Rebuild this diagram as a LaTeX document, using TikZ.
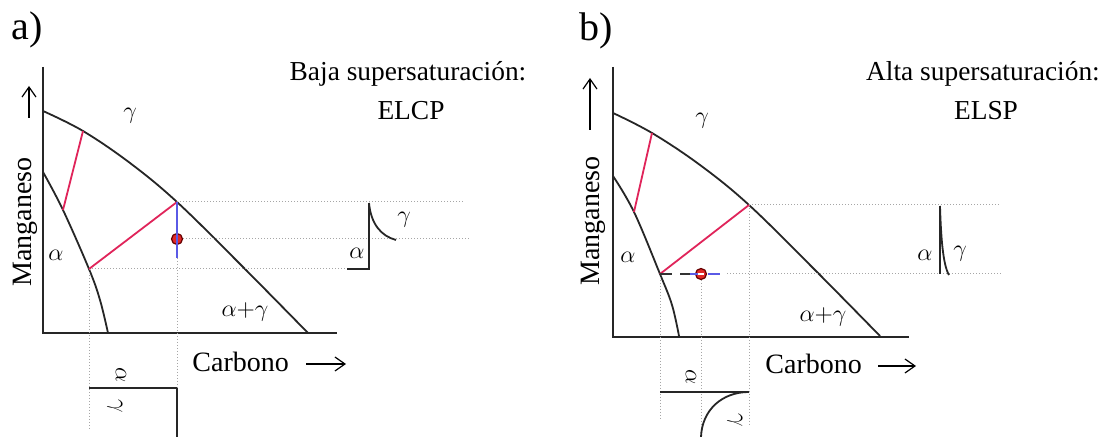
\documentclass[tikz,border=0pt]{standalone}
\usepackage{fontspec}
\setmainfont{Liberation Serif}
\usetikzlibrary{arrows.meta}
\definecolor{tiered}{HTML}{E0245A}
\definecolor{tieblue}{HTML}{5A5AE6}
\definecolor{dotred}{HTML}{E02828}
\tikzset{
  axisline/.style={line width=1.3pt, black!85},
  boundary/.style={line width=0.9pt, black!85},
  tieline/.style={line width=0.9pt, tiered},
  guide/.style={line width=0.5pt, gray!70, densely dotted},
  brk/.style={line width=0.9pt, black!85},
  lbl/.style={font=\fontsize{14}{16}\selectfont, inner sep=0pt},
  ttl/.style={font=\fontsize{13.7}{16}\selectfont, inner sep=0pt, align=center},
  panel/.style={font=\fontsize{20}{22}\selectfont, inner sep=0pt},
  greek/.style={font=\fontsize{13}{15}\selectfont, inner sep=0pt},
  dotmark/.style={circle, fill=dotred, draw=black!60!red, line width=0.6pt, minimum size=5.5pt, inner sep=0pt},
  uparrow/.style={-{Straight Barb[length=5pt,width=7pt]}, line width=0.6pt},
}
\begin{document}
\begin{tikzpicture}[x=0.5pt, y=-0.5pt]
\useasboundingbox (0,0) rectangle (1116,437);
\fill[white] (0,0) rectangle (1116,437);

% ================= panel a =================
\node[panel] (pa) at (27,30) {a)};
\node[ttl] (ta) at (408,74) {Baja supersaturación:};
\node[ttl] (ta2) at (411,111) {ELCP};

\coordinate (aO) at (43,333);
\coordinate (aT) at (43,67);
\coordinate (aR) at (337,333);
\draw[axisline] (aT) -- (aO) -- (aR);

\node[lbl, rotate=90] (aman) at (25,222) {Manganeso};
\coordinate (aua) at (29,118);
\coordinate (aub) at (29,86);
\draw[uparrow] (aua) -- (aub);
\node[lbl, anchor=west] (acar) at (192,362) {Carbono};
\coordinate (ara) at (306,364);
\coordinate (arb) at (346,364);
\draw[uparrow] (ara) -- (arb);

% boundaries
\coordinate (ag1) at (83,131);
\coordinate (ag2) at (177,202);
\coordinate (aa1) at (63,210);
\coordinate (aa2) at (89,269);
\draw[boundary] plot[smooth, tension=0.6] coordinates {(43,111) (83,131) (130,163) (177,202) (240,264) (308,333)};
\draw[boundary] plot[smooth, tension=0.6] coordinates {(43,172) (63,210) (89,269) (100,300) (108,333)};

% guides
\coordinate (ag2r) at (465,202);
\coordinate (adot) at (177,239);
\coordinate (adotr) at (470,239);
\coordinate (aa2r) at (369,269);
\coordinate (aa2d) at (89,430);
\coordinate (ablue) at (177,258);
\coordinate (abot) at (177,390);
\draw[guide] (ag2) -- (ag2r);
\draw[guide] (adot) -- (adotr);
\draw[guide] (aa2) -- (aa2r);
\draw[guide] (aa2) -- (aa2d);
\draw[guide] (ablue) -- (abot);

% tie lines
\draw[tieline] (aa1) -- (ag1);
\draw[tieline] (aa2) -- (ag2);
\node[dotmark] (adm) at (adot) {};
\draw[line width=0.9pt, tieblue] (ag2) -- (ablue);

% right bracket
\coordinate (abt) at (369,203);
\coordinate (abb) at (369,269);
\coordinate (abl) at (347,269);
\coordinate (abc) at (396,240);
\draw[brk] (abt) -- (abb) -- (abl);
\draw[brk] (abt) .. controls (371,224) and (381,236) .. (abc);
\node[greek] (abg) at (404,220) {$\gamma$};
\node[greek] (aba) at (357,253) {$\alpha$};

% bottom bracket
\coordinate (aql) at (89,388);
\coordinate (aqr) at (177,388);
\coordinate (aqd) at (177,437);
\draw[brk] (aql) -- (aqr);
\draw[brk] (aqr) -- (aqd);
\node[greek, rotate=-90] (aqa) at (121,375) {$\alpha$};
\node[greek, rotate=-90] (aqg) at (115,406) {$\gamma$};

% region labels
\node[greek] (aga) at (130,116) {$\gamma$};
\node[greek] (aal) at (56,255) {$\alpha$};
\node[greek] (aag) at (245,312) {$\alpha{+}\gamma$};

% ================= panel b =================
\node[panel] (pb) at (596,31) {b)};
\node[ttl] (tb) at (983,74) {Alta supersaturación:};
\node[ttl] (tb2) at (986,111) {ELSP};

\coordinate (bO) at (613,337);
\coordinate (bT) at (613,67);
\coordinate (bR) at (909,337);
\draw[axisline] (bT) -- (bO) -- (bR);

\node[lbl, rotate=90] (bman) at (593,221) {Manganeso};
\coordinate (bua) at (590,130);
\coordinate (bub) at (590,78);
\draw[uparrow] (bua) -- (bub);
\node[lbl, anchor=west] (bcar) at (765,364) {Carbono};
\coordinate (bra) at (878,366);
\coordinate (brb) at (916,366);
\draw[uparrow] (bra) -- (brb);

\coordinate (bg1) at (652,133);
\coordinate (bg2) at (749,205);
\coordinate (ba1) at (634,212);
\coordinate (ba2) at (660,274);
\draw[boundary] plot[smooth, tension=0.6] coordinates {(613,113) (652,133) (700,165) (749,205) (815,270) (880,336)};
\draw[boundary] plot[smooth, tension=0.6] coordinates {(613,176) (634,212) (660,274) (672,305) (679,336)};

% guides
\coordinate (bg2r) at (999,205);
\coordinate (bdot) at (701,274);
\coordinate (bdl) at (727,274);
\coordinate (bdr) at (1001,274);
\coordinate (bdash) at (690,274);
\coordinate (bblue) at (720,274);
\coordinate (ba2d) at (660,420);
\coordinate (bdotd) at (701,437);
\coordinate (bg2d) at (749,425);
\draw[guide] (bg2) -- (bg2r);
\draw[guide] (bdl) -- (bdr);
\draw[guide] (ba2) -- (ba2d);
\draw[guide] (bdot) -- (bdotd);
\draw[guide] (bg2) -- (bg2d);

\draw[tieline] (ba1) -- (bg1);
\draw[tieline] (ba2) -- (bg2);
\draw[line width=1pt, black!80, dash pattern=on 6pt off 4pt] (ba2) -- (bdash);
\node[dotmark] (bdm) at (bdot) {};
\draw[line width=1pt, tieblue, dash pattern=on 6pt off 3pt] (bdash) -- (bblue);
\draw[line width=0.8pt, white] (698,274) -- (704,274);

% right bracket
\coordinate (bbt) at (940,206);
\coordinate (bbb) at (940,274);
\coordinate (bbc) at (949,275);
\draw[brk] (bbt) -- (bbb);
\draw[brk] (bbt) .. controls (941,238) and (943,265) .. (bbc);
\node[greek] (bba) at (925,255) {$\alpha$};
\node[greek] (bbg) at (960,254) {$\gamma$};

% bottom bracket
\coordinate (bql) at (660,392);
\coordinate (bqr) at (749,392);
\coordinate (bqd) at (701,437);
\draw[brk] (bql) -- (bqr);
\draw[brk] (bqr) .. controls (722,392) and (702,410) .. (bqd);
\node[greek, rotate=-90] (bqa) at (691,377) {$\alpha$};
\node[greek, rotate=-90] (bqg) at (735,420) {$\gamma$};

\node[greek] (bga) at (702,121) {$\gamma$};
\node[greek] (bal) at (628,257) {$\alpha$};
\node[greek] (bag) at (823,317) {$\alpha{+}\gamma$};
\end{tikzpicture}
\end{document}
